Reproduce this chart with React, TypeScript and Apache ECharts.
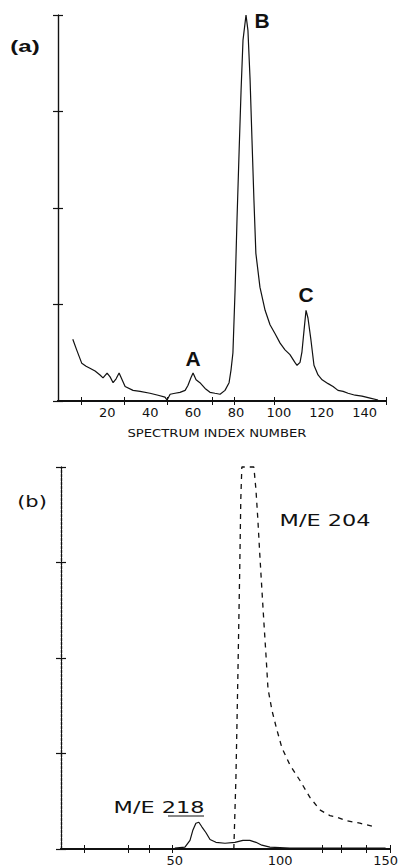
import React, { useEffect, useRef } from "react";
import * as echarts from "echarts";

// Panel (a): total ion chromatogram vs spectrum index number
const panelAIndex = [3.9, 5.7, 8.1, 10.1, 11.9, 14.3, 16.6, 18.0, 19.9, 21.3, 22.7, 24.1, 25.5, 26.9, 28.3, 32.0, 35.3, 39.9, 43.7, 46.9, 47.9, 49.3, 51.6, 53.9, 56.3, 57.6, 59.0, 60.0, 61.4, 63.2, 65.6, 67.9, 70.2, 72.6, 74.9, 76.8, 77.7, 78.6, 79.6, 80.5, 81.5, 82.4, 83.3, 84.7, 85.6, 86.6, 87.5, 88.4, 89.3, 91.2, 93.6, 95.9, 98.2, 100.6, 102.9, 105.2, 107.5, 108.5, 109.9, 110.8, 111.8, 112.7, 113.6, 115.0, 116.4, 118.3, 120.2, 123.0, 125.3, 127.6, 130.0, 132.3, 135.6, 138.8, 142.6, 146.3];
const panelAIntensity = [0.64, 0.53, 0.39, 0.36, 0.34, 0.31, 0.27, 0.24, 0.29, 0.25, 0.19, 0.23, 0.29, 0.22, 0.15, 0.11, 0.10, 0.08, 0.06, 0.04, 0.01, 0.07, 0.08, 0.09, 0.11, 0.16, 0.24, 0.29, 0.22, 0.19, 0.13, 0.09, 0.08, 0.07, 0.11, 0.19, 0.32, 0.50, 1.15, 1.88, 2.60, 3.22, 3.74, 4.0, 3.84, 3.33, 2.70, 2.08, 1.53, 1.18, 0.94, 0.79, 0.70, 0.60, 0.53, 0.48, 0.40, 0.37, 0.40, 0.51, 0.74, 0.94, 0.86, 0.63, 0.37, 0.27, 0.22, 0.18, 0.15, 0.11, 0.10, 0.08, 0.06, 0.05, 0.03, 0.01];

// Panel (b): mass chromatograms
const me218Index = [50, 54.8, 57.2, 58.6, 60.0, 61.4, 62.9, 64.8, 66.7, 69.5, 73.8, 78.5, 82.3, 85.6, 88.5, 91.3, 95.1, 104.6, 150];
const me218Intensity = [0.01, 0.02, 0.09, 0.20, 0.27, 0.28, 0.23, 0.17, 0.10, 0.07, 0.06, 0.07, 0.09, 0.09, 0.07, 0.04, 0.02, 0.01, 0.01];
const me204Index = [78.0, 79.0, 79.9, 80.8, 81.3, 81.8, 87.5, 88.5, 89.4, 90.3, 91.3, 92.3, 93.2, 94.2, 96.1, 98.4, 100.8, 104.6, 109.3, 114.1, 118.8, 123.6, 127.4, 130.7, 137.8, 143.5];
const me204Intensity = [0, 0.75, 1.79, 2.93, 3.66, 4.0, 4.0, 3.76, 3.45, 3.09, 2.72, 2.36, 2.05, 1.68, 1.45, 1.25, 1.06, 0.88, 0.72, 0.54, 0.41, 0.35, 0.33, 0.30, 0.27, 0.24];

// Tick labels / tick marks
const panelALabels = [20, 40, 60, 80, 100, 120, 140];
const panelATicks = [8, 28, 48, 69, 79, 98, 150];
const panelBLabels = [50, 100, 150];
const panelBTicks = [7, 28, 38, 49, 120, 129, 141, 152];

const INK = "#111";
const PLOT_FONT = "DejaVu Sans";

export default function App() {
  const ref = useRef<HTMLDivElement>(null);

  useEffect(() => {
    if (!ref.current) return;
    const chart = echarts.init(ref.current, undefined, { renderer: "svg" });

    const xAxisBase = (grid: number, min: number, max: number, labels: number[], ticks: number[], inside: boolean, showLabels: boolean) => ({
      type: "value",
      gridIndex: grid,
      position: "bottom",
      min,
      max,
      splitLine: { show: false },
      axisLine: { show: true, onZero: false, lineStyle: { color: INK, width: 2 } },
      axisTick: { show: true, inside, length: 4, customValues: ticks, lineStyle: { color: INK, width: 1 } },
      axisLabel: {
        show: showLabels,
        customValues: labels,
        color: INK,
        fontFamily: PLOT_FONT,
        fontSize: 13,
        margin: 5,
      },
    });

    const yAxisBase = (grid: number, inside: boolean, dashed: boolean) => ({
      type: "value",
      gridIndex: grid,
      position: "left",
      min: 0,
      max: 4,
      interval: 1,
      splitLine: { show: false },
      axisLine: { show: true, onZero: false, lineStyle: { color: INK, width: 1.2, type: dashed ? [3, 1] : "solid" } },
      axisTick: { show: true, inside, length: 5, lineStyle: { color: INK, width: 1.2 } },
      axisLabel: { show: false },
    });

    const textEl = (text: string, x: number, y: number, size: number, weight: string, scaleX: number, family = PLOT_FONT) => ({
      type: "text",
      x,
      y,
      scaleX,
      style: {
        text,
        fill: INK,
        font: `${weight} ${size}px "${family}"`,
        align: "center",
        verticalAlign: "middle",
      },
    });

    chart.setOption({
      animation: false,
      backgroundColor: "#fff",
      grid: [
        { left: 58, top: 15, width: 328, height: 386 },
        { left: 61, top: 467, width: 329, height: 385 },
      ],
      xAxis: [
        xAxisBase(0, -3, 150, panelALabels, panelATicks, false, true),
        xAxisBase(0, -3, 150, panelALabels, panelATicks, true, false),
        xAxisBase(1, -4, 152, panelBLabels, panelBTicks, false, true),
        xAxisBase(1, -4, 152, panelBLabels, panelBTicks, true, false),
      ],
      yAxis: [
        yAxisBase(0, false, false),
        yAxisBase(0, true, false),
        yAxisBase(1, false, true),
        yAxisBase(1, true, true),
      ],
      series: [
        {
          name: "TIC",
          type: "line",
          xAxisIndex: 0,
          yAxisIndex: 0,
          data: panelAIndex.map((x, i) => [x, panelAIntensity[i]]),
          showSymbol: false,
          clip: false,
          lineStyle: { color: INK, width: 1.2 },
        },
        {
          name: "M/E 218",
          type: "line",
          xAxisIndex: 2,
          yAxisIndex: 2,
          data: me218Index.map((x, i) => [x, me218Intensity[i]]),
          showSymbol: false,
          clip: false,
          lineStyle: { color: INK, width: 1.2 },
        },
        {
          name: "M/E 204",
          type: "line",
          xAxisIndex: 2,
          yAxisIndex: 2,
          data: me204Index.map((x, i) => [x, me204Intensity[i]]),
          showSymbol: false,
          clip: false,
          lineStyle: { color: INK, width: 1.3, type: [5, 5] },
        },
      ],
      graphic: [
        textEl("(a)", 25, 47, 16, "bold", 1.5, "Liberation Sans"),
        textEl("A", 193, 359, 20, "bold", 1.05, "Liberation Sans"),
        textEl("B", 262, 21, 20, "bold", 1.05, "Liberation Sans"),
        textEl("C", 306, 295, 20, "bold", 1.05, "Liberation Sans"),
        textEl("SPECTRUM INDEX NUMBER", 217, 433, 11, "normal", 1.2),
        textEl("(b)", 32, 502, 15, "normal", 1.4),
        textEl("M/E 204", 325, 521, 16, "normal", 1.4),
        textEl("M/E 218", 159, 808, 16, "normal", 1.4),
        {
          type: "line",
          shape: { x1: 168, y1: 816, x2: 204, y2: 816 },
          style: { stroke: INK, lineWidth: 1 },
        },
      ],
    });

    return () => chart.dispose();
  }, []);

  return (
    <div
      ref={ref}
      style={{ position: "fixed", left: 0, top: 0, width: 401, height: 867, background: "#fff" }}
    />
  );
}
